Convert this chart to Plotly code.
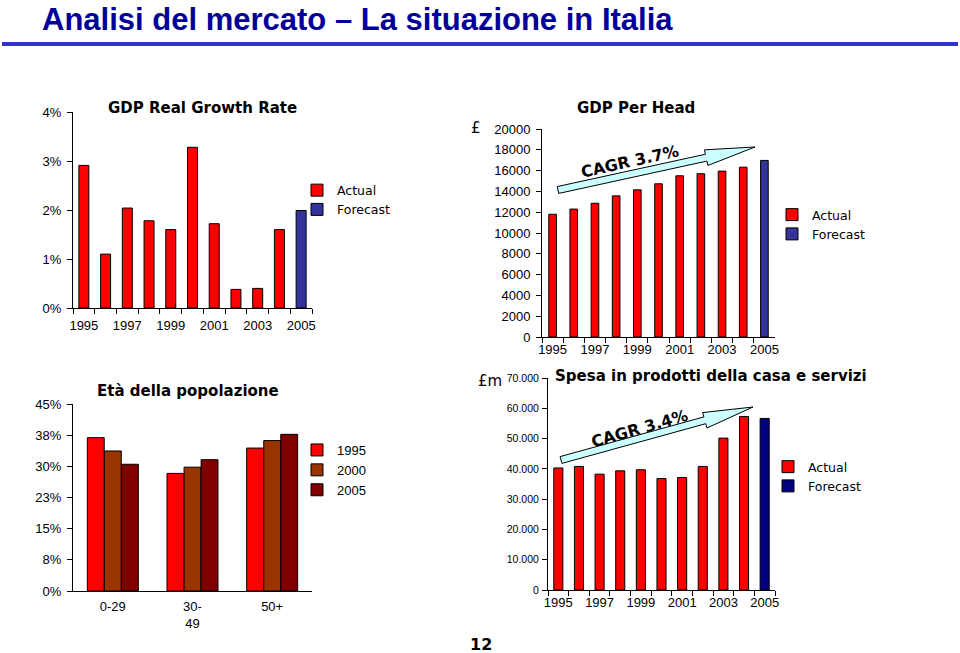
import math
import plotly.graph_objects as go

W, H = 960, 653

# ---------------- data ----------------
years = ["1995", "1996", "1997", "1998", "1999", "2000", "2001", "2002", "2003", "2004", "2005"]
year_ticktext = ["1995", "", "1997", "", "1999", "", "2001", "", "2003", "", "2005"]
actual_years = years[:10]
forecast_years = years[10:]

gdp_growth_actual = [2.91, 1.10, 2.04, 1.78, 1.60, 3.28, 1.72, 0.38, 0.40, 1.60]
gdp_growth_forecast = [1.99]

gdp_head_actual = [11800, 12300, 12860, 13570, 14150, 14730, 15500, 15700, 15950, 16330]
gdp_head_forecast = [16980]

age_groups = ["0-29", "30-49", "50+"]
age_ticktext = ["0-29", "30-<br>49", "50+"]
pop_1995 = [36.9, 28.3, 34.4]
pop_2000 = [33.7, 29.8, 36.2]
pop_2005 = [30.5, 31.6, 37.7]
pop_ticks = [0, 7.5, 15, 22.5, 30, 37.5, 45]
pop_ticktext = ["0%", "8%", "15%", "23%", "30%", "38%", "45%"]

spesa_actual = [40300, 40800, 38250, 39350, 39700, 36800, 37150, 40800, 50150, 57300]
spesa_forecast = [56650]

RED = "#FF0000"
FC1 = "#333399"
FC2 = "#000080"
BROWN = "#993300"
DARK = "#800000"

TICKF = dict(family="Liberation Sans, Arial", size=13, color="black")
TITLEF = dict(family="DejaVu Sans", size=15, color="black", weight="bold")
LEGF = dict(family="DejaVu Sans", size=12.5, color="black")


def px_x(x):
    return x / W


def px_y(y):
    return 1 - y / H


fig = go.Figure()
line = dict(color="black", width=1)

# top-left: GDP growth
fig.add_trace(go.Bar(x=actual_years, y=gdp_growth_actual, name="Actual", marker=dict(color=RED, line=line),
                     width=0.46, xaxis="x", yaxis="y", legend="legend"))
fig.add_trace(go.Bar(x=forecast_years, y=gdp_growth_forecast, name="Forecast", marker=dict(color=FC1, line=line),
                     width=0.46, xaxis="x", yaxis="y", legend="legend"))

# top-right: GDP per head
fig.add_trace(go.Bar(x=actual_years, y=gdp_head_actual, name="Actual", marker=dict(color=RED, line=line),
                     width=0.36, xaxis="x2", yaxis="y2", legend="legend2"))
fig.add_trace(go.Bar(x=forecast_years, y=gdp_head_forecast, name="Forecast", marker=dict(color=FC1, line=line),
                     width=0.36, xaxis="x2", yaxis="y2", legend="legend2"))

# bottom-left: population
for vals, nm, col, off in [(pop_1995, "1995", RED, -0.32), (pop_2000, "2000", BROWN, -0.106),
                           (pop_2005, "2005", DARK, 0.108)]:
    fig.add_trace(go.Bar(x=age_groups, y=vals, name=nm, marker=dict(color=col, line=line),
                         width=0.212, offset=off, xaxis="x3", yaxis="y3", legend="legend3"))

# bottom-right: spesa
fig.add_trace(go.Bar(x=actual_years, y=spesa_actual, name="Actual", marker=dict(color=RED, line=line),
                     width=0.44, xaxis="x4", yaxis="y4", legend="legend4"))
fig.add_trace(go.Bar(x=forecast_years, y=spesa_forecast, name="Forecast", marker=dict(color=FC2, line=line),
                     width=0.44, xaxis="x4", yaxis="y4", legend="legend4"))

common_x = dict(type="category", showline=True, linecolor="black", linewidth=1, showgrid=False,
                zeroline=False, tickfont=TICKF, fixedrange=True, tickangle=0, automargin=False)
common_y = dict(showline=True, linecolor="black", linewidth=1, showgrid=False, zeroline=False,
                ticks="outside", ticklen=5, tickcolor="black", tickfont=TICKF, fixedrange=True,
                automargin=False, ticklabelstandoff=3)

legend_common = dict(font=LEGF, bgcolor="rgba(0,0,0,0)", xanchor="left", yanchor="top",
                     tracegroupgap=0, itemwidth=30, traceorder="normal")

fig.update_layout(
    autosize=True, margin=dict(l=0, r=0, t=0, b=0, pad=0, autoexpand=False),
    paper_bgcolor="white", plot_bgcolor="white",
    barmode="overlay", separators=",.",
    showlegend=True,
    xaxis=dict(common_x, domain=[px_x(73), px_x(312)], anchor="y", range=[-0.5, 10.5],
               tickson="boundaries", ticks="outside", ticklen=5, tickcolor="black",
               tickvals=years, ticktext=year_ticktext, ticklabelstandoff=5),
    yaxis=dict(common_y, domain=[px_y(308), px_y(112)], anchor="x", range=[0, 4], dtick=1,
               ticksuffix="%"),
    xaxis2=dict(common_x, domain=[px_x(542), px_x(775)], anchor="y2", range=[-0.5, 10.5],
                tickson="boundaries", ticks="outside", ticklen=5, tickcolor="black",
                tickvals=years, ticktext=year_ticktext),
    yaxis2=dict(common_y, domain=[px_y(337), px_y(129)], anchor="x2", range=[0, 20000], dtick=2000,
                tickformat="d"),
    xaxis3=dict(common_x, domain=[px_x(73), px_x(312)], anchor="y3", range=[-0.5, 2.5],
                ticks="", tickvals=age_groups, ticktext=age_ticktext, ticklabelstandoff=3),
    yaxis3=dict(common_y, domain=[px_y(591), px_y(404)], anchor="x3", range=[0, 45],
                tickvals=pop_ticks, ticktext=pop_ticktext),
    xaxis4=dict(common_x, domain=[px_x(548), px_x(775)], anchor="y4", range=[-0.5, 10.5],
                tickson="boundaries", ticks="outside", ticklen=5, tickcolor="black",
                tickvals=years, ticktext=year_ticktext),
    yaxis4=dict(common_y, domain=[px_y(590), px_y(378)], anchor="x4", range=[0, 70000], dtick=10000,
                tickformat=",d", ticklabelstandoff=1,
                tickfont=dict(family="Liberation Sans, Arial", size=10.5, color="black")),
    legend=dict(legend_common, x=px_x(297), y=px_y(175.5)),
    legend2=dict(legend_common, x=px_x(772), y=px_y(200)),
    legend3=dict(legend_common, font=dict(family="Liberation Sans, Arial", size=13, color="black"),
                 x=px_x(297), y=px_y(435)),
    legend4=dict(legend_common, x=px_x(768), y=px_y(452)),
)


def arrow(x0, y0, x1, y1, shaft=3.5, head_w=8, head_len=50):
    dx, dy = x1 - x0, y1 - y0
    L = math.hypot(dx, dy)
    ux, uy = dx / L, dy / L
    nx, ny = -uy, ux
    bx, by = x1 - ux * head_len, y1 - uy * head_len
    pts = [(x0 + nx * shaft, y0 + ny * shaft), (bx + nx * shaft, by + ny * shaft),
           (bx + nx * head_w, by + ny * head_w), (x1, y1),
           (bx - nx * head_w, by - ny * head_w), (bx - nx * shaft, by - ny * shaft),
           (x0 - nx * shaft, y0 - ny * shaft)]
    path = "M " + " L ".join(f"{px_x(x):.5f},{px_y(y):.5f}" for x, y in pts) + " Z"
    return dict(type="path", xref="paper", yref="paper", path=path,
                fillcolor="#CCFFFF", line=dict(color="black", width=1))


shapes = [
    # title underline
    dict(type="rect", xref="paper", yref="paper", x0=px_x(2), x1=px_x(958), y0=px_y(46), y1=px_y(42),
         fillcolor="#3333CC", line=dict(width=0)),
    arrow(558, 190, 755, 147),
    arrow(561, 460, 753, 407),
]
fig.update_layout(shapes=shapes)

ann = []


def text(x, y, s, font, xanchor="center", angle=0, yanchor="middle"):
    ann.append(dict(x=px_x(x), y=px_y(y), xref="paper", yref="paper", text=s, showarrow=False,
                    font=font, xanchor=xanchor, yanchor=yanchor, textangle=angle))


text(40, 0, "Analisi del mercato – La situazione in Italia",
     dict(family="Comic Sans MS, Liberation Sans", size=31, color="#000099", weight="bold"),
     xanchor="left", yanchor="top")
text(202, 108, "GDP Real Growth Rate", TITLEF)
text(636, 108, "GDP Per Head", TITLEF)
text(188, 391, "Età della popolazione", TITLEF)
text(553, 376, "Spesa in prodotti della casa e servizi", TITLEF, xanchor="left")
text(630, 161, "CAGR 3.7%", dict(family="DejaVu Sans", size=16, color="black", weight="bold"), angle=-12.5)
text(640, 429, "CAGR 3.4%", dict(family="DejaVu Sans", size=16, color="black", weight="bold"), angle=-16)
text(476, 128, "£", dict(family="DejaVu Sans", size=15, color="black"))
text(490, 381, "£m", dict(family="DejaVu Sans", size=15, color="black"))
text(481, 644, "12", dict(family="DejaVu Sans", size=16, color="black", weight="bold"))
fig.update_layout(annotations=ann)

fig.write_html(
    "out.html",
    config={"displayModeBar": False, "staticPlot": True, "responsive": True},
    default_width="100vw",
    default_height="100vh",
    post_script=(
        "document.documentElement.style.margin='0';document.documentElement.style.padding='0';"
        "document.documentElement.style.overflow='hidden';"
        "document.body.style.margin='0';document.body.style.padding='0';document.body.style.overflow='hidden';"
        "var d=document.getElementById('{plot_id}');d.style.position='fixed';d.style.left='0px';d.style.top='0px';"
    ),
)
